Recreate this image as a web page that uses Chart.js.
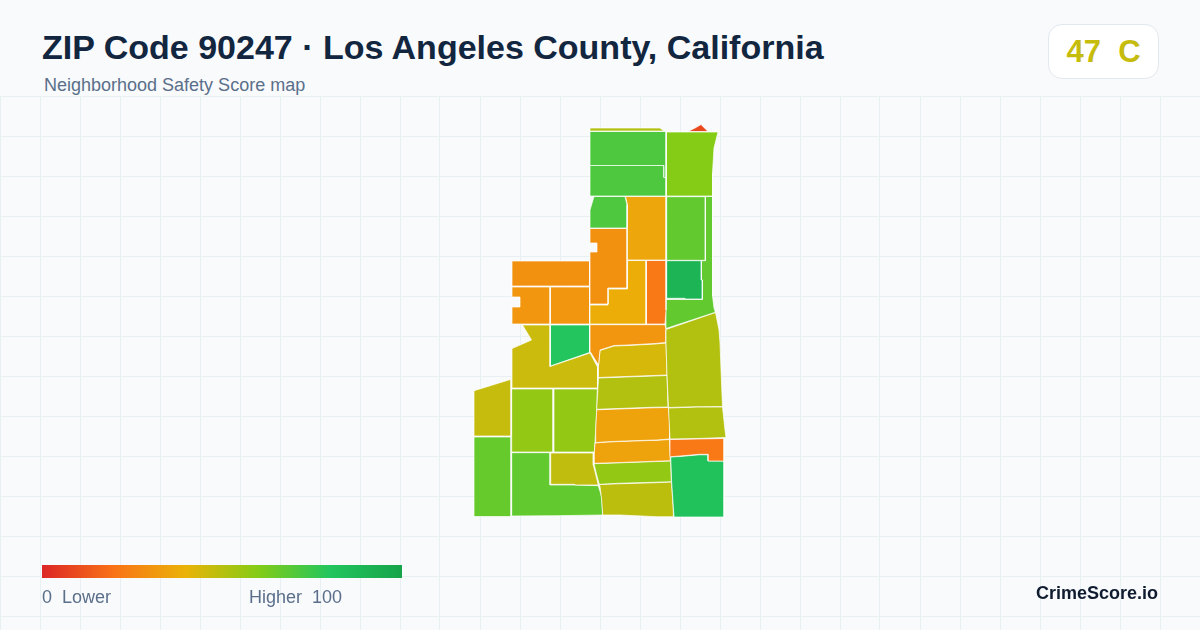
<!DOCTYPE html>
<html>
<head>
<meta charset="utf-8">
<title>ZIP Code 90247</title>
<script src="https://cdn.jsdelivr.net/npm/chart.js@4/dist/chart.umd.min.js"></script>
<style>
  html, body { margin: 0; padding: 0; }
  body { width: 1200px; height: 630px; position: relative; overflow: hidden; background: #f8fafc;
         font-family: "Liberation Sans", Arial, sans-serif; }
  #mapBox { position: absolute; left: 0; top: 96px; width: 1200px; height: 534px; }
  .txt { position: absolute; white-space: pre; }
  #title { left: 42px; top: 27px; font-size: 34px; line-height: 40px; font-weight: 700; color: #12263f; }
  #subtitle { left: 44px; top: 75px; font-size: 18px; line-height: 20px; color: #5b6f8a; }
  #badge { position: absolute; left: 1048px; top: 24px; width: 109px; height: 53px; background: #fff;
           border: 1px solid #e2e8f0; border-radius: 14px; text-align: center; font-size: 31px; line-height: 53px;
           font-weight: 700; white-space: pre; }
  #ramp { position: absolute; left: 42px; top: 565px; width: 360px; height: 13px; }
  #lower { left: 42px; top: 587px; font-size: 18px; line-height: 20px; color: #5b6f8a; }
  #higher { left: 249px; top: 587px; font-size: 18px; line-height: 20px; color: #5b6f8a; }
  #brand { right: 42px; top: 583px; font-size: 18px; line-height: 20px; font-weight: 700; color: #0f1c30; }
</style>
</head>
<body>
<div id="mapBox"><canvas id="map"></canvas></div>
<div class="txt" id="title">ZIP Code 90247 · Los Angeles County, California</div>
<div class="txt" id="subtitle">Neighborhood Safety Score map</div>
<div id="badge"></div>
<div id="ramp"></div>
<div class="txt" id="lower">0  Lower</div>
<div class="txt" id="higher">Higher  100</div>
<div class="txt" id="brand">CrimeScore.io</div>

<script>
const overallScore = 47;
const overallGrade = 'C';

// legend ramp
const rampScores = [0, 20, 40, 60, 80, 100];
const rampColors = ['#dc2626', '#f97316', '#eab308', '#84cc16', '#22c55e', '#16a34a'];

// safety score per block group
const tractScores = [
  51, 71, 71, 60, 9, 71, 36, 29, 29, 31, 31,
  38, 22, 90, 67, 67, 51, 51, 22, 82, 31,
  44, 51, 35, 35, 57, 49, 46, 80, 47, 57,
  57, 66, 48, 67
];

// block group outlines in map units, same order as tractScores
const tractRings = [
  [[590,128],[660,128],[664,131],[590,131]],
  [[590,131.5],[666,131.5],[666,177.5],[664,177.5],[664,165.5],[590,165.5]],
  [[590,165.5],[664,165.5],[664,177.5],[666,177.5],[666,196],[590,196]],
  [[666.5,132],[718,132],[714,148],[712.5,173],[712.5,196],[666.5,196]],
  [[688,131.5],[695,128],[701,124.5],[708,131.5]],
  [[594,196.5],[625,196.5],[627,205],[627,228],[590,228],[590,210]],
  [[625.5,196.5],[666,196.5],[666,260],[627.5,260],[627.5,205]],
  [[590,228.5],[627,228.5],[627,288],[608,288],[608,304],[590,304],[590,252],[597,252],[597,243],[590,243]],
  [[512,261],[589.5,261],[589.5,286],[512,286]],
  [[512,287],[550,287],[550,324],[512,324],[512,307],[520,307],[520,297],[512,297]],
  [[550.5,287],[589.5,287],[589.5,324],[550.5,324]],
  [[590,305],[608,305],[608,289],[627.5,289],[627.5,260.5],[646,260.5],[646,324],[590,324]],
  [[646.5,260.5],[666,260.5],[666,310],[665,324],[646.5,324]],
  [[666.7,260.7],[701.3,260.7],[701.3,280],[702.3,280],[702.3,299],[685,299],[685,298.3],[666.7,298.3]],
  [[666.7,196.7],[705.3,196.7],[705.3,260.3],[666.7,260.3]],
  [[705.5,196.5],[712.5,196.5],[712.5,296],[714,308],[715.3,312.3],[666,328.5],[665.7,300],[666.7,299.5],[702.5,299.5],[702.5,280],[701.5,280],[701.5,260.7],[705.5,260.7]],
  [[666,329.5],[715.5,312.5],[719,330],[720,343],[721.7,387],[722.5,406.5],[697,406.7],[668.5,407.5],[667,375],[666,343]],
  [[668.5,408],[697,407],[722.5,407],[725,430],[726,437.5],[697,438.5],[670,439]],
  [[670,439.5],[697,439],[724,438.5],[724,461],[708.3,461],[708.3,454.3],[699.3,454.3],[680,456],[670.7,456.7]],
  [[670.7,457],[680,456.5],[699.3,454.8],[708,454.8],[708,461],[724,461],[724,517],[674,517],[673.3,506.7],[671.7,483]],
  [[590,324.7],[665,324.7],[666,329.5],[666,342.5],[655,343.5],[628,345],[614,345.5],[600,350],[598.5,365],[590.5,352]],
  [[600,350.5],[614,346],[628,345.5],[655,344],[666,343],[667,375],[640,376],[598.5,377.5],[598.5,366]],
  [[598.5,378],[640,376.5],[667,375.5],[668,407],[651.7,407.3],[625,408.3],[596.7,409.3]],
  [[596.7,409.8],[625,408.8],[651.7,407.8],[668.5,407.5],[669.5,420],[669.5,439],[656.7,440],[633.3,440.7],[607.7,441.7],[595,442.7],[595.7,430]],
  [[595,443],[608,442],[633,441],[657,440.3],[669.5,439.5],[670.3,460.7],[615,462.7],[594,463.3],[594.3,453]],
  [[594,463.7],[615,463],[670.7,461],[671.3,481.7],[653.3,482.3],[618.3,483.3],[599.3,484.3],[596.7,475]],
  [[599.5,484.5],[618,483.8],[653,482.8],[671.5,482],[673,505],[673.5,516.7],[656.7,516.7],[620,515],[602.7,515],[601.7,500],[600,486.7]],
  [[522.5,325],[550,325],[550,366.5],[590,353],[597.5,367],[597.5,388],[512,388],[512,348.5],[531.5,340]],
  [[550.5,325],[589.5,325],[589.5,352.5],[550.5,366]],
  [[474,390.7],[511,379.3],[511,436],[474,436]],
  [[511.7,389],[553,389],[553,452],[511.7,452]],
  [[554,389],[597.3,389],[596.7,411.7],[595,441.7],[594.3,452],[554,452]],
  [[474,437],[511,437],[511,516.5],[474,516.5]],
  [[550.7,453],[593.3,453],[593.3,465],[598.3,485],[575,485],[575,484.3],[550.7,484.3]],
  [[511.7,452.7],[550,452.7],[550,485],[574.3,485],[598.3,485.7],[601.7,497],[602.7,515],[556.7,515.7],[511.7,516]]
];

// background grid rows
const gridRows = [96, 136, 176, 216, 256, 296, 336, 376, 416, 456, 496, 536, 576, 616];

function hexToRgb(hex) {
  return [1, 3, 5].map(i => parseInt(hex.slice(i, i + 2), 16));
}

// same ramp as the legend
function scoreColor(score) {
  let i = 0;
  while (i < rampScores.length - 2 && score > rampScores[i + 1]) i++;
  const t = (score - rampScores[i]) / (rampScores[i + 1] - rampScores[i]);
  const a = hexToRgb(rampColors[i]);
  const b = hexToRgb(rampColors[i + 1]);
  const c = a.map((v, k) => Math.round(v + (b[k] - v) * t));
  return `rgb(${c[0]}, ${c[1]}, ${c[2]})`;
}

const badge = document.getElementById('badge');
badge.textContent = `${overallScore}  ${overallGrade}`;
badge.style.color = scoreColor(overallScore);

const stops = rampColors.map((c, i) => `${c} ${rampScores[i]}%`).join(', ');
document.getElementById('ramp').style.background = `linear-gradient(to right, ${stops})`;

const datasets = tractRings.map((ring, i) => ({
  label: `Block group ${i + 1}`,
  data: ring.concat([ring[0]]).map(p => ({ x: p[0], y: p[1] })),
  showLine: true,
  fill: 'shape',
  backgroundColor: scoreColor(tractScores[i]),
  borderColor: '#ffffff',
  borderWidth: 0.7,
  pointRadius: 0,
  tension: 0
}));

new Chart(document.getElementById('map'), {
  type: 'scatter',
  data: { datasets },
  options: {
    responsive: true,
    maintainAspectRatio: false,
    animation: false,
    events: [],
    layout: { padding: 0 },
    plugins: { legend: { display: false }, tooltip: { enabled: false } },
    scales: {
      x: {
        type: 'linear', min: 0, max: 1200,
        ticks: { display: false, stepSize: 40 },
        grid: { color: '#e9f0f3', lineWidth: 1, drawTicks: false },
        border: { display: false }
      },
      y: {
        type: 'linear', min: 96, max: 630, reverse: true,
        afterBuildTicks: scale => { scale.ticks = gridRows.map(value => ({ value })); },
        ticks: { display: false },
        grid: { color: '#e9f0f3', lineWidth: 1, drawTicks: false },
        border: { display: false }
      }
    }
  }
});
</script>
</body>
</html>
